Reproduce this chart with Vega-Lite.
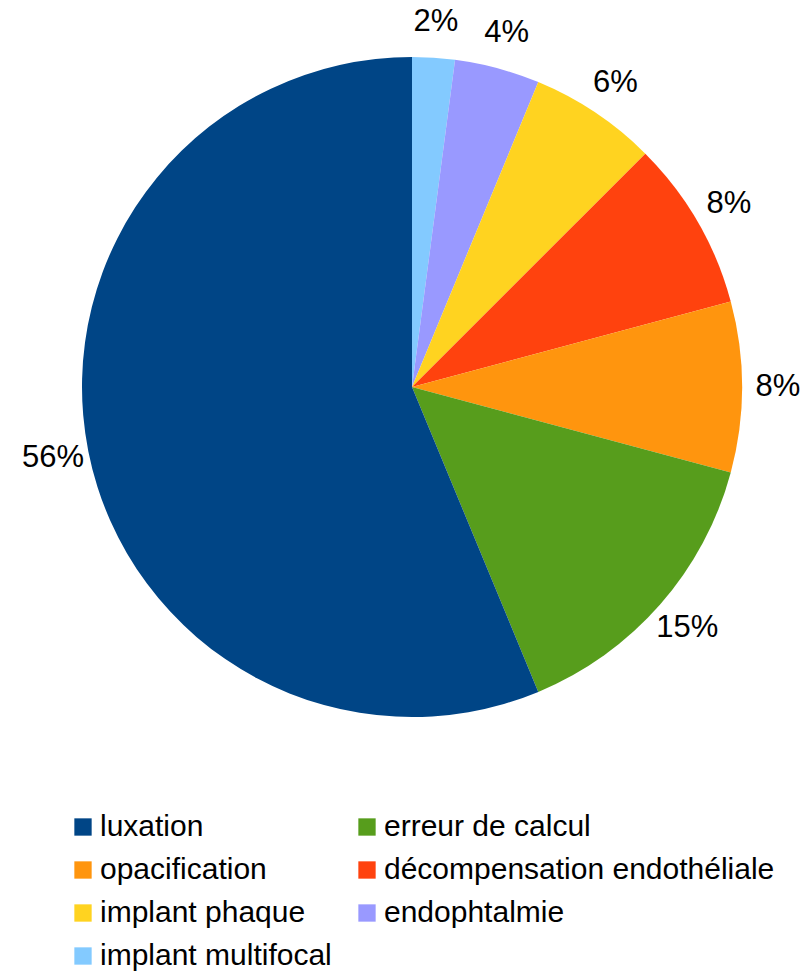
{
  "$schema": "https://vega.github.io/schema/vega-lite/v6.json",
  "width": 776,
  "height": 774,
  "autosize": {"type": "none"},
  "padding": {"left": 24, "top": 0, "right": 0, "bottom": 199},
  "background": "white",
  "config": {"view": {"stroke": null}, "font": "Liberation Sans"},
  "data": {
    "values": [
      {"cause": "implant multifocal", "count": 1, "label": "2%", "ord": 1},
      {"cause": "endophtalmie", "count": 2, "label": "4%", "ord": 2},
      {"cause": "implant phaque", "count": 3, "label": "6%", "ord": 3},
      {"cause": "décompensation endothéliale", "count": 4, "label": "8%", "ord": 4},
      {"cause": "opacification", "count": 4, "label": "8%", "ord": 5},
      {"cause": "erreur de calcul", "count": 7, "label": "15%", "ord": 6},
      {"cause": "luxation", "count": 27, "label": "56%", "ord": 7}
    ]
  },
  "encoding": {
    "theta": {"field": "count", "type": "quantitative", "stack": true},
    "order": {"field": "ord", "type": "quantitative"}
  },
  "layer": [
    {
      "mark": {"type": "arc", "outerRadius": 330, "stroke": null},
      "encoding": {
        "color": {
          "field": "cause",
          "type": "nominal",
          "scale": {
            "domain": ["luxation", "opacification", "implant phaque", "implant multifocal", "erreur de calcul", "décompensation endothéliale", "endophtalmie"],
            "range": ["#004586", "#ff950e", "#ffd320", "#83caff", "#579d1c", "#ff420e", "#9999ff"]
          },
          "legend": {
            "title": null,
            "orient": "none",
            "legendX": 44,
            "legendY": 812,
            "columns": 2,
            "symbolType": "square",
            "symbolSize": 300,
            "symbolStrokeWidth": 0,
            "labelFontSize": 30,
            "labelFont": "Liberation Sans",
            "labelColor": "#000000",
            "labelOffset": 2,
            "labelLimit": 500,
            "rowPadding": 13,
            "columnPadding": 20,
            "padding": 0
          }
        }
      }
    },
    {
      "mark": {"type": "text", "radius": 366, "fontSize": 31, "font": "Liberation Sans", "color": "#000000", "align": "center", "baseline": "middle"},
      "encoding": {"text": {"field": "label", "type": "nominal"}}
    }
  ]
}
